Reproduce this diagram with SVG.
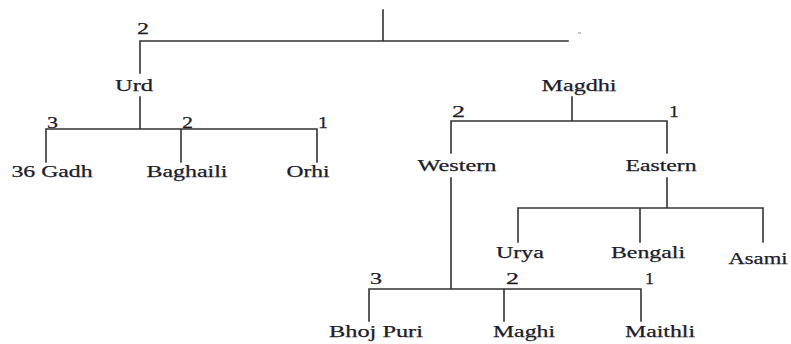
<svg xmlns="http://www.w3.org/2000/svg" width="791" height="344" viewBox="0 0 791 344">
  <style>
    .ln { stroke: #333; stroke-width: 1.6; fill: none; stroke-linecap: square; }
    .lbl { font-family: "Liberation Serif", "Times New Roman", serif; font-size: 16px; fill: #1c1c2a; text-anchor: middle; stroke: #1c1c2a; stroke-width: 0.25; }
    .num { font-family: "Liberation Serif", "Times New Roman", serif; font-size: 16px; fill: #1c1c2a; stroke: #1c1c2a; stroke-width: 0.25; }
  </style>
  <rect width="791" height="344" fill="#ffffff"/>

  <!-- tree connectors -->
  <g id="connectors">
    <!-- root -->
    <path class="ln" d="M383 10 V41 M140 41 H568 M140 41 V73"/>
    <path d="M578 33 H581" stroke="#888" stroke-width="1"/>
    <!-- Urd branch -->
    <path class="ln" d="M140 97 V129 M46 129 H317 M46 129 V162 M181 129 V162 M317 129 V162"/>
    <!-- Magdhi branch -->
    <path class="ln" d="M572 97 V121 M451 121 H667 M451 121 V153 M667 121 V153"/>
    <!-- Eastern branch -->
    <path class="ln" d="M667 178 V208 M518 208 H763 M518 208 V242 M640 208 V242 M763 208 V242"/>
    <!-- Western branch -->
    <path class="ln" d="M451 178 V289 M369 289 H641 M369 289 V321 M504 289 V321 M641 289 V321"/>
  </g>

  <!-- branch order numbers -->
  <g id="numbers">
    <text class="num" x="137" y="34" textLength="12" lengthAdjust="spacingAndGlyphs">2</text>
    <text class="num" x="47" y="128" textLength="11" lengthAdjust="spacingAndGlyphs">3</text>
    <text class="num" x="182" y="128" textLength="11" lengthAdjust="spacingAndGlyphs">2</text>
    <text class="num" x="318" y="128" textLength="10" lengthAdjust="spacingAndGlyphs">1</text>
    <text class="num" x="452" y="117" textLength="13" lengthAdjust="spacingAndGlyphs">2</text>
    <text class="num" x="669" y="117" textLength="10" lengthAdjust="spacingAndGlyphs">1</text>
    <text class="num" x="370" y="284" textLength="12" lengthAdjust="spacingAndGlyphs">3</text>
    <text class="num" x="506" y="284" textLength="13" lengthAdjust="spacingAndGlyphs">2</text>
    <text class="num" x="645" y="284" textLength="9" lengthAdjust="spacingAndGlyphs">1</text>
  </g>

  <g id="urd"><text class="lbl" x="134" y="91" textLength="38" lengthAdjust="spacingAndGlyphs">Urd</text></g>
  <g id="magdhi"><text class="lbl" x="579" y="91" textLength="75" lengthAdjust="spacingAndGlyphs">Magdhi</text></g>

  <g id="gadh36"><text class="lbl" x="52" y="177" textLength="81" lengthAdjust="spacingAndGlyphs">36 Gadh</text></g>
  <g id="baghaili"><text class="lbl" x="187" y="177" textLength="81" lengthAdjust="spacingAndGlyphs">Baghaili</text></g>
  <g id="orhi"><text class="lbl" x="308" y="177" textLength="43" lengthAdjust="spacingAndGlyphs">Orhi</text></g>

  <g id="western"><text class="lbl" x="457" y="171" textLength="79" lengthAdjust="spacingAndGlyphs">Western</text></g>
  <g id="eastern"><text class="lbl" x="661" y="171" textLength="71" lengthAdjust="spacingAndGlyphs">Eastern</text></g>

  <g id="urya"><text class="lbl" x="520" y="258" textLength="48" lengthAdjust="spacingAndGlyphs">Urya</text></g>
  <g id="bengali"><text class="lbl" x="648" y="258" textLength="74" lengthAdjust="spacingAndGlyphs">Bengali</text></g>
  <g id="asami"><text class="lbl" x="758" y="264" textLength="59" lengthAdjust="spacingAndGlyphs">Asami</text></g>

  <g id="bhojpuri"><text class="lbl" x="376" y="337" textLength="94" lengthAdjust="spacingAndGlyphs">Bhoj Puri</text></g>
  <g id="maghi"><text class="lbl" x="524" y="337" textLength="62" lengthAdjust="spacingAndGlyphs">Maghi</text></g>
  <g id="maithli"><text class="lbl" x="660" y="337" textLength="70" lengthAdjust="spacingAndGlyphs">Maithli</text></g>
</svg>
